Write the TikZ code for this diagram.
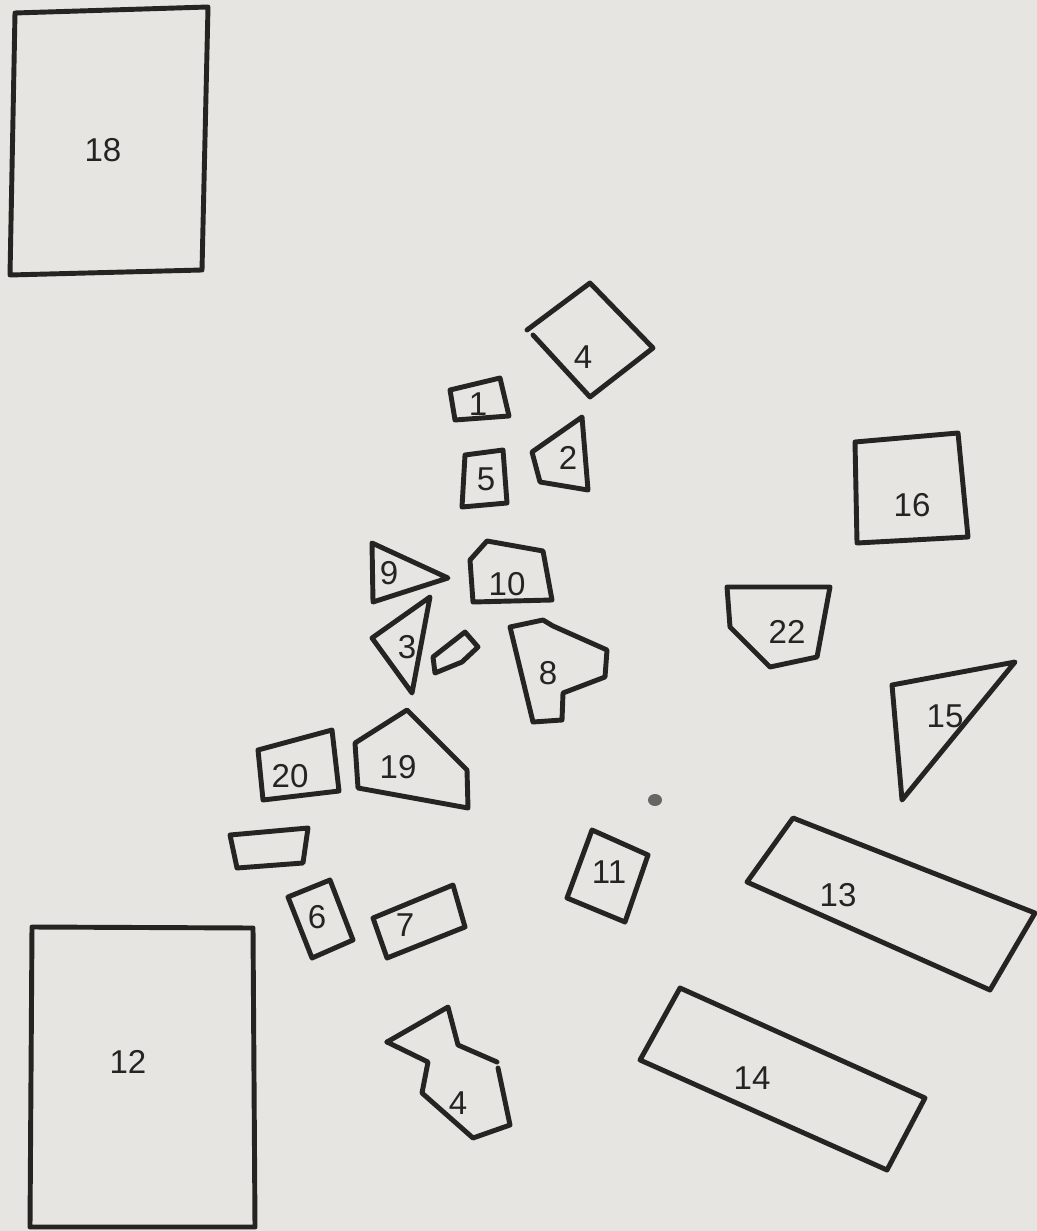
\documentclass[tikz,border=0pt]{standalone}
\usepackage{fontspec}
\setsansfont{Liberation Sans}
\usepackage{tikz}
\usetikzlibrary{calc}
\definecolor{paper}{HTML}{E6E5E1}
\definecolor{ink}{HTML}{262422}
\tikzset{
  every picture/.style={line width=1.4pt},
  piece/.style={draw=ink, line join=round, line cap=round},
  ptag/.style={font=\sffamily\fontsize{9.4}{11}\selectfont, text=ink, inner sep=0pt},
  smudge/.style={fill=ink!70, draw=none},
}

\begin{document}
\begin{tikzpicture}[x=0.01cm,y=-0.01cm]
% sheet
\fill[paper] (0,0) rectangle (1037,1231);
\useasboundingbox (0,0) rectangle (1037,1231);
% large boards
\draw[piece] (15,13) -- (208,7) -- (202,270) -- (10,275) -- cycle;
\node[ptag] (t18) at (103,150) {18};
\draw[piece] (32,927) -- (253,928) -- (255,1227) -- (30,1227) -- cycle;
\node[ptag] (t12) at (128,1062) {12};
% upper cluster
\draw[piece] (533,335) -- (590,397) -- (653,348) -- (590,283) -- (527,330);
\node[ptag] (t4a) at (583,357) {4};
\draw[piece] (450,390) -- (500,378) -- (509,416) -- (455,420) -- cycle;
\node[ptag] (t1) at (478,404) {1};
\draw[piece] (582,417) -- (532,452) -- (540,482) -- (588,490) -- cycle;
\node[ptag] (t2) at (568,458) {2};
\draw[piece] (465,455) -- (503,450) -- (507,503) -- (462,507) -- cycle;
\node[ptag] (t5) at (486,479) {5};
% middle cluster
\draw[piece] (372,543) -- (448,578) -- (373,602) -- cycle;
\node[ptag] (t9) at (389,573) {9};
\draw[piece] (470,560) -- (487,541) -- (543,551) -- (552,600) -- (473,602) -- cycle;
\node[ptag] (t10) at (507,584) {10};
\draw[piece] (430,597) -- (372,638) -- (412,693) -- cycle;
\node[ptag] (t3) at (407,647) {3};
\draw[piece] (435,673) -- (433,657) -- (465,632) -- (478,647) -- (462,662) -- cycle;
\draw[piece] (510,627) -- (543,620) -- (553,626) -- (607,650) -- (605,677)
  -- (563,693) -- (562,720) -- (533,722) -- cycle;
\node[ptag] (t8) at (548,673) {8};
% left cluster
\draw[piece] (258,750) -- (332,730) -- (339,791) -- (263,800) -- cycle;
\node[ptag] (t20) at (290,776) {20};
\draw[piece] (355,743) -- (407,710) -- (467,770) -- (468,808) -- (358,788) -- cycle;
\node[ptag] (t19) at (398,767) {19};
\draw[piece] (230,835) -- (308,828) -- (303,863) -- (237,868) -- cycle;
\draw[piece] (288,897) -- (330,880) -- (353,940) -- (312,958) -- cycle;
\node[ptag] (t6) at (317,917) {6};
\draw[piece] (373,918) -- (453,885) -- (465,927) -- (387,958) -- cycle;
\node[ptag] (t7) at (405,925) {7};
% lower pieces
\draw[piece] (387,1042) -- (448,1007) -- (458,1045) -- (497,1062);
\draw[piece] (498,1068) -- (510,1125) -- (473,1138) -- (422,1093) -- (428,1062) -- (387,1042);
\node[ptag] (t4b) at (458,1103) {4};
\draw[piece] (592,830) -- (648,855) -- (625,922) -- (567,898) -- cycle;
\node[ptag] (t11) at (609,872) {11};
\fill[smudge] (655,800) ellipse (7 and 6);
% right side
\draw[piece] (855,442) -- (958,433) -- (968,537) -- (857,543) -- cycle;
\node[ptag] (t16) at (912,505) {16};
\draw[piece] (727,587) -- (830,587) -- (817,657) -- (770,667) -- (730,627) -- cycle;
\node[ptag] (t22) at (787,632) {22};
\draw[piece] (892,685) -- (1015,662) -- (902,800) -- cycle;
\node[ptag] (t15) at (945,716) {15};
\draw[piece] (793,818) -- (1035,913) -- (990,990) -- (747,882) -- cycle;
\node[ptag] (t13) at (838,895) {13};
\draw[piece] (680,988) -- (925,1098) -- (887,1170) -- (640,1060) -- cycle;
\node[ptag] (t14) at (752,1078) {14};
\end{tikzpicture}
\end{document}
